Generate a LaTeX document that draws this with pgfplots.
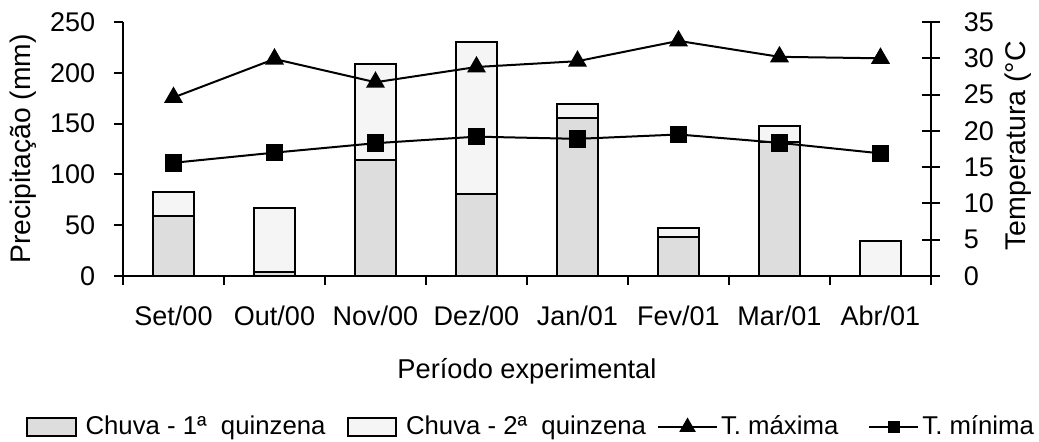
\documentclass[border=0pt]{standalone}
\usepackage{fontspec}
\setmainfont{Liberation Sans}
\usepackage{pgfplots}
\pgfplotsset{compat=1.18}
\definecolor{qone}{HTML}{DDDDDD}
\definecolor{qtwo}{HTML}{F5F5F5}
\pgfplotsset{
  lineleg/.style n args={3}{legend image code/.code={\path (-#1,0pt) (#2,0pt);\draw[##1, sharp plot, mark repeat=2, mark phase=2] plot coordinates {(0pt,0pt) (#3/2,0pt) (#3,0pt)};}},
  barleg/.style 2 args={legend image code/.code={\path (-#1,0pt) (#2,0pt);\draw[##1] (0pt,-3.65pt) rectangle (19.4pt,3.65pt);}},
  common/.style={
    scale only axis, width=323.2pt, height=101.6pt,
    xmin=-0.5, xmax=7.5,
    axis line style={line width=0.8pt,-},
    every tick/.style={line width=0.8pt, black},
    /pgf/number format/assume math mode=true,
    every tick label/.append style={font=\fontsize{10.8}{13}\selectfont},
  }
}
\begin{document}
\begin{tikzpicture}
\begin{axis}[common,
  axis y line*=left, axis x line*=bottom,
  ymin=0, ymax=250, ytick={0,50,...,250},
  tick align=outside, major tick length=3.6pt,
  yticklabel style={xshift=-4pt},
  xtick={-0.5,0.5,...,7.5},
  xticklabels={Set/00,Out/00,Nov/00,Dez/00,Jan/01,Fev/01,Mar/01,Abr/01},
  x tick label as interval,
  xticklabel style={anchor=base, yshift=-16pt},
  ylabel={Precipitação (mm)},
  ylabel style={at={(axis description cs:-0.1238,0.5)}, anchor=center, font=\fontsize{11.3}{13}\selectfont},
  xlabel={Período experimental},
  xlabel style={at={(axis description cs:0.5,0)}, anchor=base, yshift=-40.8pt, font=\fontsize{10.9}{13}\selectfont},
  ybar stacked, bar width=16.3pt,
  legend columns=4,
  legend style={at={(axis description cs:-0.1200,-0.5945)}, anchor=west, draw=none, fill=none,
    inner sep=0pt, outer sep=0pt, column sep=0pt, row sep=0pt,
    nodes={font=\fontsize{10.3}{12}\selectfont, inner sep=0pt, outer sep=0pt},
  },
]
\addplot[fill=qone, draw=black, line width=0.8pt, barleg={0pt}{23pt}]
  coordinates {(0,59) (1,4) (2,114) (3,81) (4,156) (5,38) (6,132) (7,0)};
\addplot[fill=qtwo, draw=black, line width=0.8pt, barleg={8.4pt}{23pt}]
  coordinates {(0,24) (1,63) (2,95) (3,149) (4,13) (5,9.5) (6,16) (7,34)};
\addlegendimage{black, line width=0.8pt, mark=triangle*, mark size=3pt, lineleg={4.4pt}{24.8pt}{23.6pt}}
\addlegendimage{black, line width=0.8pt, mark=square*, mark size=2pt, lineleg={12pt}{20.8pt}{19.6pt}}
\legend{Chuva - 1ª\ \ quinzena, Chuva - 2ª\ \ quinzena, T. máxima, T. mínima}
\end{axis}
\begin{axis}[common,
  axis y line*=right, axis x line=none,
  ymin=0, ymax=35, ytick={0,5,...,35},
  tick align=center, major tick length=7.2pt,
  yticklabel style={anchor=west, xshift=6pt},
  clip=false,
]
\addplot[black, line width=0.8pt, mark=triangle*, mark size=3.6pt, mark options={solid}]
  coordinates {(0,24.6) (1,29.9) (2,26.7) (3,28.8) (4,29.6) (5,32.4) (6,30.2) (7,30.0)};
\addplot[black, line width=0.8pt, mark=square*, mark size=3.1pt, mark options={solid}]
  coordinates {(0,15.6) (1,17.0) (2,18.3) (3,19.2) (4,18.9) (5,19.5) (6,18.35) (7,16.9)};
\end{axis}
\node[rotate=90, anchor=west, inner sep=0pt, font=\fontsize{11.4}{13}\selectfont] at (358pt,10pt) {Temperatura (°C};
\pgfresetboundingbox
\path[use as bounding box] (-49.2pt,-66.4pt) rectangle (366.4pt,110.4pt);
\end{tikzpicture}
\end{document}
